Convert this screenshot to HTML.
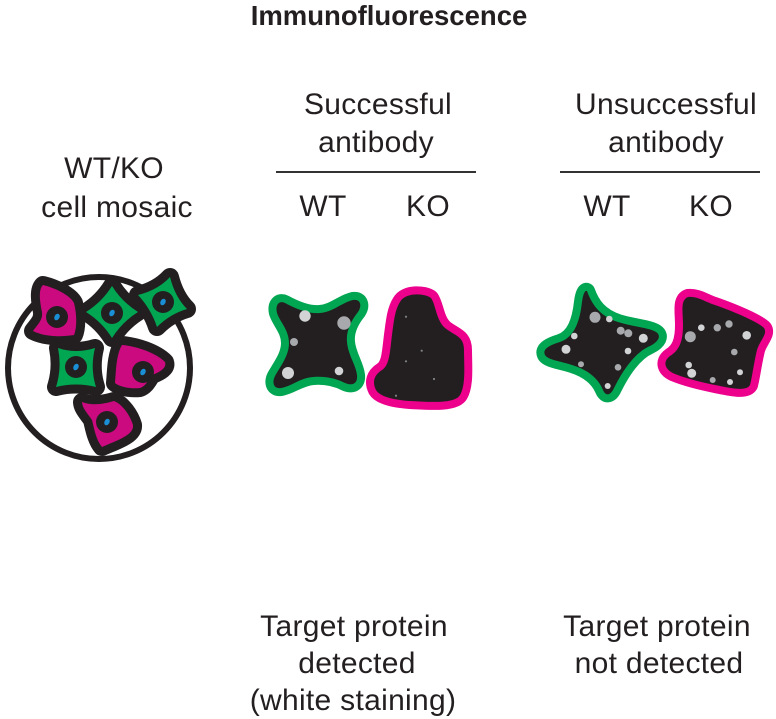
<!DOCTYPE html>
<html>
<head>
<meta charset="utf-8">
<style>
  html,body{margin:0;padding:0;background:#fff;}
  svg{display:block;}
  text{font-family:"Liberation Sans",Arial,Helvetica,sans-serif;fill:#231f20;}
  .t{font-size:30px;letter-spacing:0.3px;}
</style>
</head>
<body>
<svg width="776" height="719" viewBox="0 0 776 719" xmlns="http://www.w3.org/2000/svg">
  <!-- Title -->
  <text x="389" y="25" text-anchor="middle" font-weight="bold" font-size="27.5">Immunofluorescence</text>

  <!-- Left labels -->
  <text class="t" x="114" y="178" text-anchor="middle">WT/KO</text>
  <text class="t" x="117" y="217" text-anchor="middle">cell mosaic</text>

  <!-- Successful -->
  <text class="t" x="378" y="114" text-anchor="middle">Successful</text>
  <text class="t" x="376" y="152" text-anchor="middle">antibody</text>
  <line x1="276" y1="172" x2="476" y2="172" stroke="#333" stroke-width="2"/>
  <text class="t" x="323" y="216" text-anchor="middle">WT</text>
  <text class="t" x="428" y="216" text-anchor="middle">KO</text>

  <!-- Unsuccessful -->
  <text class="t" x="666" y="114" text-anchor="middle">Unsuccessful</text>
  <text class="t" x="666" y="152" text-anchor="middle">antibody</text>
  <line x1="560" y1="172" x2="760" y2="172" stroke="#333" stroke-width="2"/>
  <text class="t" x="607" y="216" text-anchor="middle">WT</text>
  <text class="t" x="711" y="216" text-anchor="middle">KO</text>

  <!-- Bottom labels -->
  <text class="t" x="354" y="636" text-anchor="middle">Target protein</text>
  <text class="t" x="357" y="673" text-anchor="middle">detected</text>
  <text class="t" x="353" y="710" text-anchor="middle">(white staining)</text>
  <text class="t" x="657" y="636" text-anchor="middle">Target protein</text>
  <text class="t" x="659" y="673" text-anchor="middle">not detected</text>

  <!-- Mosaic circle -->
  <circle cx="99" cy="368" r="91" fill="none" stroke="#231f20" stroke-width="6"/>

  <!-- Mosaic cells -->
  <g stroke="#231f20" stroke-width="18" stroke-linejoin="round" paint-order="stroke">
    <path fill="#cc0a80" d="M43,285 C55,288 70,295 74,303 C77,315 77,328 74,335 C60,337 45,337 33,331 C38,324 43,320 42,312 C40,302 38,290 43,285 Z"/>
    <path fill="#00a651" d="M112,286 Q122,302 138,312 Q122,322 112,338 Q102,322 86,312 Q102,302 112,286 Z"/>
    <path fill="#00a651" d="M187,309 Q170,314 157,327 Q151,309 138,295 Q158,290 170,277 Q175,297 187,309 Z"/>
    <path fill="#00a651" d="M58,348 Q76,354 95,348 Q90,368 96,387 Q76,382 56,387 Q62,368 58,348 Z"/>
    <path fill="#cc0a80" d="M122,345 C135,346 155,352 165,362 C167,368 160,372 152,375 C148,380 146,386 140,388 C130,389 120,387 115,383 C116,372 116,355 122,345 Z"/>
    <path fill="#cc0a80" d="M82,402 C92,406 104,404 114,401 C122,404 130,415 133,425 C134,435 118,440 102,447 C96,440 94,428 92,420 C88,414 82,408 82,402 Z"/>
  </g>
  <!-- Nuclei -->
  <g fill="#231f20">
    <circle cx="57" cy="317" r="11"/>
    <circle cx="112" cy="313" r="11"/>
    <circle cx="163" cy="302" r="11"/>
    <circle cx="76" cy="367" r="11"/>
    <circle cx="143" cy="372" r="11"/>
    <circle cx="107" cy="422" r="11"/>
  </g>
  <g fill="#1b8fd6">
    <ellipse cx="57" cy="317" rx="2.5" ry="3.4" transform="rotate(30 57 317)"/>
    <ellipse cx="112" cy="313" rx="2.5" ry="3.4" transform="rotate(30 112 313)"/>
    <ellipse cx="163" cy="302" rx="2.5" ry="3.4" transform="rotate(30 163 302)"/>
    <ellipse cx="76" cy="367" rx="2.5" ry="3.4" transform="rotate(30 76 367)"/>
    <ellipse cx="143" cy="372" rx="2.5" ry="3.4" transform="rotate(30 143 372)"/>
    <ellipse cx="107" cy="422" rx="2.5" ry="3.4" transform="rotate(30 107 422)"/>
  </g>

  <!-- Big cells -->
  <g stroke-width="16" stroke-linejoin="round" paint-order="stroke" fill="#231f20">
    <!-- Successful WT -->
    <path stroke="#00a651" d="M285,303 C298,310 310,314 320,313 C333,312 343,302 353,300 C361,299 362,306 358,312 C350,322 346,332 347,342 C348,355 356,365 357,375 C358,384 352,386 345,383 C335,378 325,376 313,377 C300,378 290,387 281,388 C273,389 272,382 275,376 C282,364 289,355 289,343 C289,330 280,322 277,313 C275,305 279,300 285,303 Z"/>
    <!-- Successful KO -->
    <path stroke="#ec008c" d="M400,302 C405,292 425,293 431,298 C436,305 436,320 445,328 C455,336 464,336 464,350 C464,365 466,385 460,395 C455,404 430,402 410,401 C395,400 380,397 376,390 C372,382 374,375 382,370 C390,365 390,350 392,335 C394,320 395,310 400,302 Z"/>
    <!-- Unsuccessful WT -->
    <path stroke="#00a651" d="M587,291 C592,305 600,316 618,322 C635,327 650,328 656,332 C662,336 658,342 650,346 C636,352 624,368 614,388 C611,395 606,397 603,390 C598,378 588,370 572,365 C560,361 548,360 545,355 C542,349 550,345 560,342 C575,337 580,320 582,302 C583,294 585,290 587,291 Z"/>
    <!-- Unsuccessful KO -->
    <path stroke="#ec008c" d="M688,297 C698,296 705,302 715,305 C735,312 758,322 764,328 C768,334 760,340 757,350 C754,362 752,378 750,385 C746,392 730,388 715,385 C700,382 685,378 675,374 C665,370 662,362 670,356 C680,350 683,340 683,325 C683,312 680,300 688,297 Z"/>
  </g>

  <!-- Dots: successful WT -->
  <circle cx="305" cy="316" r="5.7" fill="#d1d3d4"/>
  <circle cx="344" cy="323" r="6.7" fill="#a7a9ac"/>
  <circle cx="294" cy="342" r="4" fill="#a7a9ac"/>
  <circle cx="288" cy="373" r="6" fill="#d1d3d4"/>
  <circle cx="339" cy="371" r="4.3" fill="#d1d3d4"/>

  <!-- Dots: successful KO (tiny) -->
  <g fill="#808285">
    <circle cx="406" cy="316.7" r="1.1"/>
    <circle cx="421.7" cy="350.7" r="1.1"/>
    <circle cx="406" cy="361.3" r="1.1"/>
    <circle cx="434" cy="379" r="1.1"/>
    <circle cx="396" cy="395.7" r="1.1"/>
  </g>

  <!-- Dots: unsuccessful WT -->
  <circle cx="595" cy="317.3" r="5.5" fill="#a7a9ac"/>
  <circle cx="609.3" cy="319" r="3.3" fill="#d1d3d4"/>
  <circle cx="620.7" cy="330.7" r="4" fill="#a7a9ac"/>
  <circle cx="628.3" cy="333.3" r="4" fill="#a7a9ac"/>
  <circle cx="643.3" cy="338.3" r="4.5" fill="#d1d3d4"/>
  <circle cx="574.3" cy="336" r="3.3" fill="#d1d3d4"/>
  <circle cx="566" cy="349.3" r="4.5" fill="#d1d3d4"/>
  <circle cx="628" cy="351" r="3.3" fill="#d1d3d4"/>
  <circle cx="581" cy="364.3" r="3" fill="#a7a9ac"/>
  <circle cx="618" cy="367.3" r="3.3" fill="#a7a9ac"/>
  <circle cx="607.7" cy="386" r="3" fill="#d1d3d4"/>

  <!-- Dots: unsuccessful KO -->
  <circle cx="690.3" cy="336.7" r="5.5" fill="#a7a9ac"/>
  <circle cx="701.3" cy="327.7" r="3.3" fill="#d1d3d4"/>
  <circle cx="717.3" cy="327.7" r="3.7" fill="#a7a9ac"/>
  <circle cx="729" cy="324" r="3.7" fill="#a7a9ac"/>
  <circle cx="746.7" cy="335.3" r="4.3" fill="#d1d3d4"/>
  <circle cx="734.3" cy="352" r="3.3" fill="#a7a9ac"/>
  <circle cx="688.7" cy="365" r="3.3" fill="#d1d3d4"/>
  <circle cx="691.7" cy="373.3" r="4.5" fill="#d1d3d4"/>
  <circle cx="740" cy="372.3" r="3" fill="#d1d3d4"/>
  <circle cx="712.7" cy="380" r="3" fill="#a7a9ac"/>
  <circle cx="730" cy="382" r="3" fill="#d1d3d4"/>
</svg>
</body>
</html>
